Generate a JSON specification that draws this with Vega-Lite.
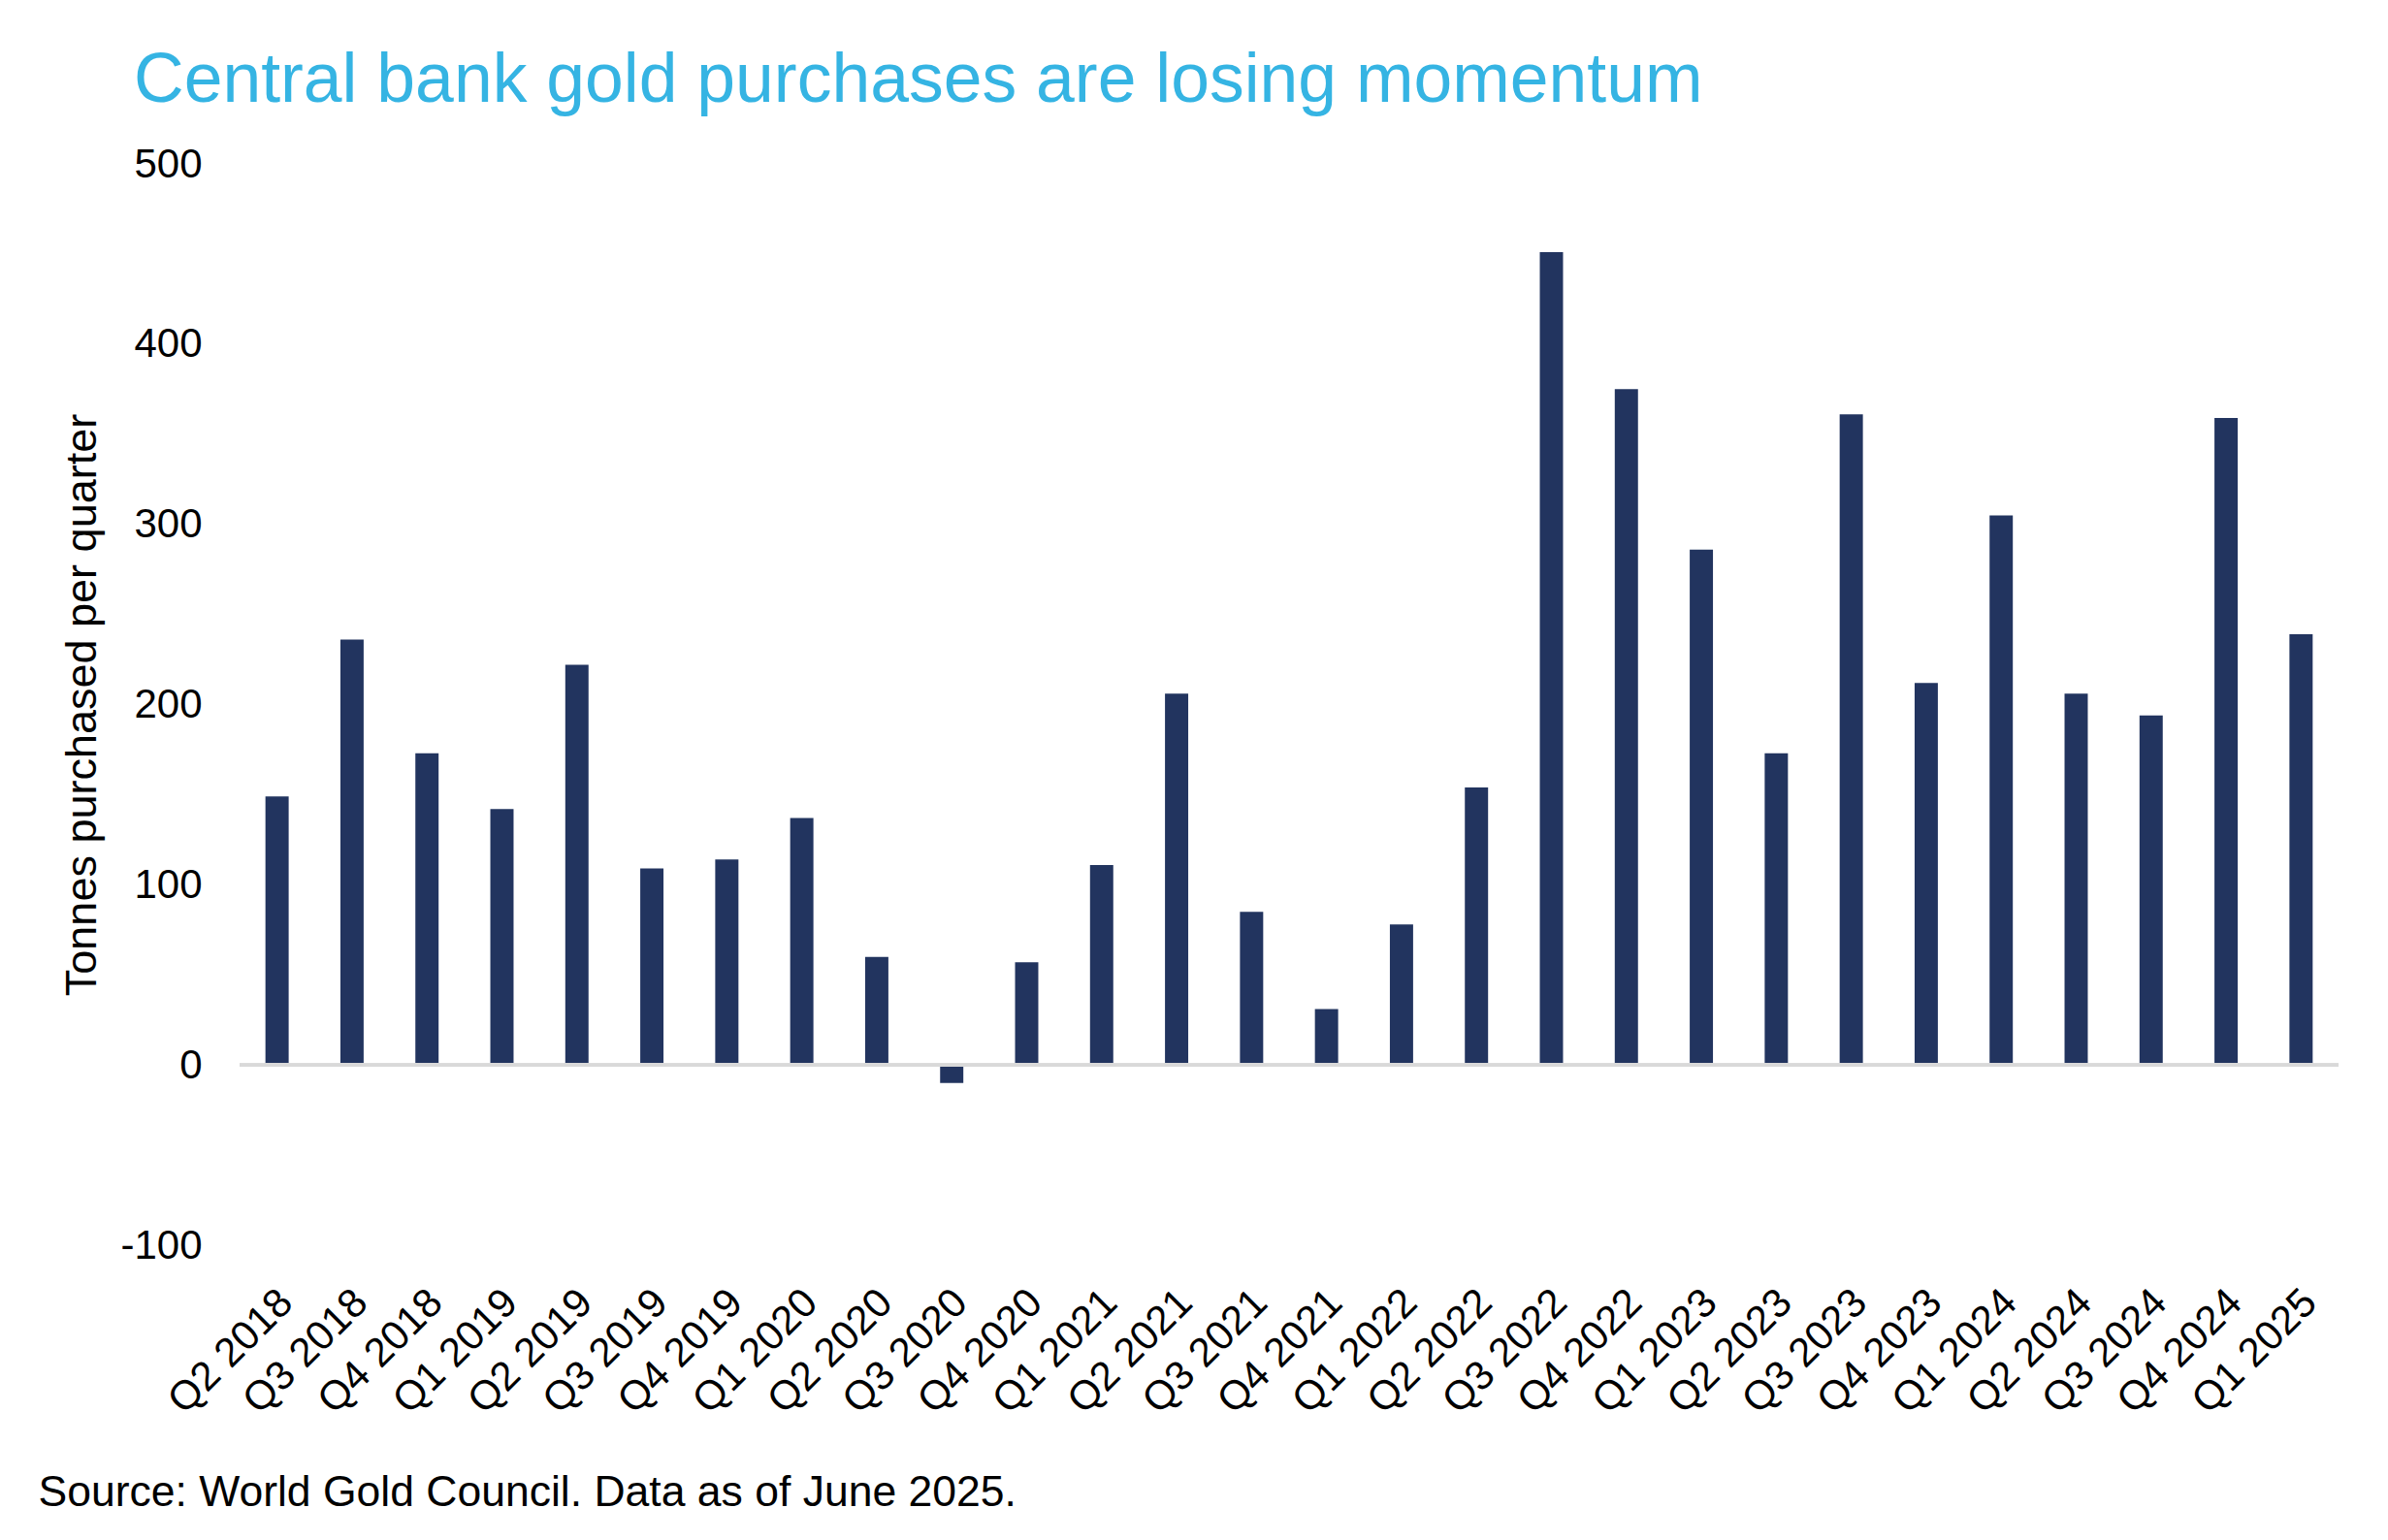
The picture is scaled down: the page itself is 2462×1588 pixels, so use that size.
{
  "$schema": "https://vega.github.io/schema/vega-lite/v6.json",
  "width": 2164,
  "height": 1115,
  "autosize": {"type": "none"},
  "padding": {"left": 247, "top": 169, "right": 51, "bottom": 304},
  "config": {"view": {"stroke": null}, "font": "Liberation Sans"},
  "title": {
    "text": "Central bank gold purchases are losing momentum",
    "fontSize": 71.5,
    "fontWeight": "normal",
    "color": "#35B4E3",
    "anchor": "start",
    "frame": "group",
    "dx": -109,
    "offset": 28
  },
  "data": {
    "values": [
      {"quarter": "Q2 2018", "tonnes": 149},
      {"quarter": "Q3 2018", "tonnes": 236},
      {"quarter": "Q4 2018", "tonnes": 173},
      {"quarter": "Q1 2019", "tonnes": 142},
      {"quarter": "Q2 2019", "tonnes": 222},
      {"quarter": "Q3 2019", "tonnes": 109},
      {"quarter": "Q4 2019", "tonnes": 114},
      {"quarter": "Q1 2020", "tonnes": 137},
      {"quarter": "Q2 2020", "tonnes": 60},
      {"quarter": "Q3 2020", "tonnes": -10},
      {"quarter": "Q4 2020", "tonnes": 57},
      {"quarter": "Q1 2021", "tonnes": 111},
      {"quarter": "Q2 2021", "tonnes": 206},
      {"quarter": "Q3 2021", "tonnes": 85},
      {"quarter": "Q4 2021", "tonnes": 31},
      {"quarter": "Q1 2022", "tonnes": 78},
      {"quarter": "Q2 2022", "tonnes": 154},
      {"quarter": "Q3 2022", "tonnes": 451},
      {"quarter": "Q4 2022", "tonnes": 375},
      {"quarter": "Q1 2023", "tonnes": 286},
      {"quarter": "Q2 2023", "tonnes": 173},
      {"quarter": "Q3 2023", "tonnes": 361},
      {"quarter": "Q4 2023", "tonnes": 212},
      {"quarter": "Q1 2024", "tonnes": 305},
      {"quarter": "Q2 2024", "tonnes": 206},
      {"quarter": "Q3 2024", "tonnes": 194},
      {"quarter": "Q4 2024", "tonnes": 359},
      {"quarter": "Q1 2025", "tonnes": 239}
    ]
  },
  "layer": [
    {
      "mark": {"type": "bar", "color": "#22345F"},
      "encoding": {
        "x": {
          "field": "quarter",
          "type": "nominal",
          "sort": null,
          "scale": {"paddingInner": 0.69, "paddingOuter": 0.345},
          "axis": {
            "labelAngle": -45,
            "labelFontSize": 42,
            "labelColor": "#000000",
            "labelPadding": 38,
            "labelOffset": -5,
            "ticks": false,
            "domain": false,
            "title": "Source: World Gold Council. Data as of June 2025.",
            "titleFontSize": 44.5,
            "titleFontWeight": "normal",
            "titleColor": "#000000",
            "titleAnchor": "start",
            "titleAlign": "left",
            "titleBaseline": "alphabetic",
            "titleX": -208,
            "titleY": 268
          }
        },
        "y": {
          "field": "tonnes",
          "type": "quantitative",
          "scale": {"domain": [-100, 500], "nice": false},
          "axis": {
            "values": [-100, 0, 100, 200, 300, 400, 500],
            "labelExpr": "'' + datum.value",
            "grid": false,
            "domain": false,
            "ticks": false,
            "labelFontSize": 42,
            "labelColor": "#000000",
            "labelPadding": 39,
            "title": "Tonnes purchased per quarter",
            "titleFontSize": 45,
            "titleFontWeight": "normal",
            "titleColor": "#000000",
            "titlePadding": 16
          }
        }
      }
    },
    {
      "mark": {"type": "rule", "color": "#D9D9D9", "strokeWidth": 3},
      "encoding": {"y": {"datum": 0}}
    }
  ]
}
